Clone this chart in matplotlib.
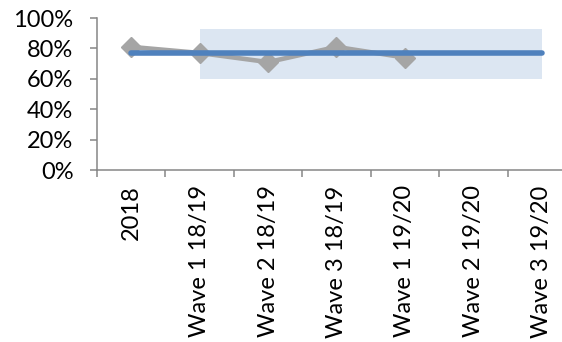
import matplotlib.pyplot as plt
import numpy as np
from matplotlib.ticker import FuncFormatter

plt.rcParams['font.family'] = ['Lato', 'DejaVu Sans']

categories = ['2018', 'Wave 1 18/19', 'Wave 2 18/19', 'Wave 3 18/19',
              'Wave 1 19/20', 'Wave 2 19/20', 'Wave 3 19/20']
scores = [81, 77, 71, 81, 74]          # gray series, first five points
target = [77] * len(categories)        # flat blue line
band_low = 60
band_high = 93
band_start = 1                          # band runs from Wave 1 18/19 to the end

fig = plt.figure(figsize=(5.62, 3.42), dpi=100)
ax = fig.add_axes([0.1726, 0.5029, 0.8523, 0.4444])

x = np.arange(len(categories))
xb = x[band_start:]
ax.fill_between(xb, band_low, band_high, color='#dce6f2', lw=0, zorder=1)

ax.plot(x[:len(scores)], scores, color='#a5a5a5', lw=3.3, marker='D',
        markersize=10, zorder=2)
ax.plot(x, target, color='#4f81bd', lw=4, solid_capstyle='round', zorder=3)

ax.set_xlim(-0.5, len(categories) - 0.5)
ax.set_ylim(0, 100)
ax.set_yticks(range(0, 101, 20))
ax.yaxis.set_major_formatter(FuncFormatter(lambda v, p: '%d%%' % v))

ax.set_xticks(x)
ax.set_xticklabels(categories, rotation=90, fontsize=17)
ax.set_xticks(np.arange(-0.5, len(categories)), minor=True)
ax.tick_params(axis='x', which='major', length=0, pad=11)
ax.tick_params(axis='x', which='minor', length=5, width=1.1, color='#868686',
               direction='out')
ax.tick_params(axis='y', length=5, width=1.1, color='#868686', labelsize=17,
               pad=12)

for s in ['top', 'right']:
    ax.spines[s].set_visible(False)
for s in ['left', 'bottom']:
    ax.spines[s].set_color('#868686')
    ax.spines[s].set_linewidth(1.1)

fig.savefig('out.png', dpi=100)
